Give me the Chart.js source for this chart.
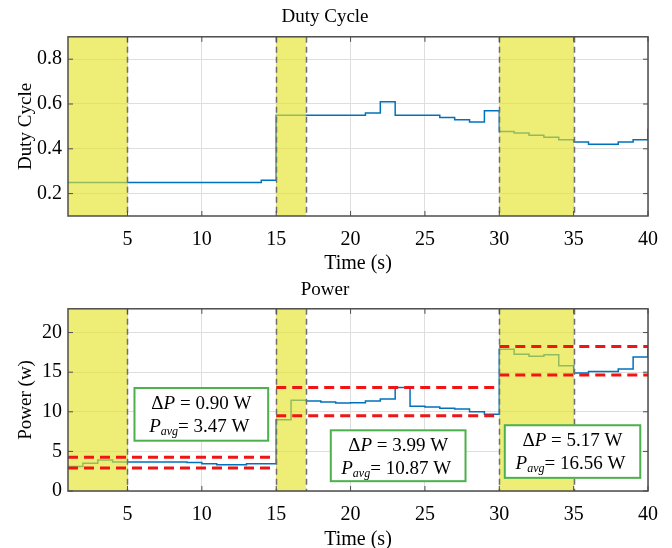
<!DOCTYPE html>
<html>
<head>
<meta charset="utf-8">
<script src="https://cdn.jsdelivr.net/npm/chart.js@4"></script>
<style>
  body { margin: 0; background: #fff; }
  canvas { position: absolute; left: 0; }
</style>
</head>
<body>
<canvas id="duty" width="672" height="275" style="top:0"></canvas>
<canvas id="power" width="672" height="273" style="top:275px"></canvas>
<script>
// duty cycle steps: value holds from each time until the next one
const dutyTime  = [1, 14, 15, 21, 22, 23, 26, 27, 28, 29, 30, 31, 32, 33, 34, 35, 36, 38, 39, 40];
const dutyValue = [0.25, 0.26, 0.55, 0.56, 0.61, 0.55, 0.54, 0.53, 0.52, 0.57, 0.477, 0.47, 0.461, 0.452, 0.44, 0.43, 0.42, 0.43, 0.44, 0.49];

// power steps
const powerTime  = [1, 2, 3, 4, 9, 10, 11, 13, 15, 16, 17, 18, 19, 20, 21, 22, 23, 24, 25, 26, 27, 28, 29, 30, 31, 32, 33, 34, 35, 36, 38, 39, 40];
const powerValue = [3.1, 3.5, 3.9, 3.66, 3.6, 3.45, 3.3, 3.45, 9.0, 11.45, 11.35, 11.25, 11.1, 11.15, 11.35, 11.6, 13.05, 10.7, 10.6, 10.45, 10.35, 10.0, 9.7, 17.9, 17.25, 17.0, 17.2, 15.8, 14.9, 15.1, 15.4, 16.9, 18.0];

// shaded (yellow) intervals
const shadeStart = [1, 15, 30];
const shadeEnd   = [5, 17, 35];

// red dashed limits per interval
const bandStart = [1, 15, 30];
const bandEnd   = [15, 30, 40];
const bandUpper = [4.25, 13.05, 18.25];
const bandLower = [2.9, 9.5, 14.65];

// annotation texts
const deltaP = ['0.90', '3.99', '5.17'];
const pAvg   = ['3.47', '10.87', '16.56'];

const timeTicks  = [5, 10, 15, 20, 25, 30, 35, 40];
const dutyTicks  = [0.2, 0.4, 0.6, 0.8];
const powerTicks = [0, 5, 10, 15, 20];

// annotation boxes placed in data units [left, right, top, bottom]
const boxes = [[5.47, 14.46, 13.0, 6.35], [18.67, 27.73, 7.66, 1.24], [30.37, 39.48, 8.3, 1.66]];

const FONT = '"Liberation Serif", "Times New Roman", serif';
const BLUE = '#0072BD';

function drawParts(ctx, cx, y, parts) {
  let w = 0;
  parts.forEach(p => {
    ctx.font = (p.it ? 'italic ' : '') + (p.size || 19) + 'px ' + FONT;
    p.w = ctx.measureText(p.t).width;
    w += p.w;
  });
  let x = cx - w / 2;
  parts.forEach(p => {
    ctx.font = (p.it ? 'italic ' : '') + (p.size || 19) + 'px ' + FONT;
    ctx.fillText(p.t, x, y + (p.dy || 0));
    x += p.w;
  });
}

const decor = {
  id: 'decor',
  afterDatasetDraw(chart, args) {
    if (args.index !== 0) return;
    const {ctx, chartArea: a, scales: {x}} = chart;
    ctx.save();
    ctx.fillStyle = 'rgba(228,228,40,0.64)';
    shadeStart.forEach((s, i) => {
      const x0 = x.getPixelForValue(s), x1 = x.getPixelForValue(shadeEnd[i]);
      ctx.fillRect(x0, a.top, x1 - x0, a.bottom - a.top);
    });
    ctx.restore();
  },
  afterDraw(chart, args, opts) {
    const {ctx, chartArea: a, scales: {x, y}} = chart;
    ctx.save();
    // dashed boundaries of the shaded intervals
    ctx.strokeStyle = '#6e6e6e';
    ctx.lineWidth = 1.5;
    ctx.setLineDash([6, 4]);
    shadeStart.concat(shadeEnd).forEach(v => {
      const px = Math.round(x.getPixelForValue(v)) + 0.5;
      if (px <= a.left + 1 || px >= a.right - 1) return;
      ctx.beginPath();
      ctx.moveTo(px, a.top);
      ctx.lineTo(px, a.bottom);
      ctx.stroke();
    });
    ctx.setLineDash([]);
    // box and inward ticks
    ctx.strokeStyle = '#4d4d4d';
    ctx.lineWidth = 1.5;
    ctx.strokeRect(a.left, a.top, a.right - a.left, a.bottom - a.top);
    ctx.lineWidth = 1;
    ctx.beginPath();
    x.ticks.forEach(t => {
      const px = x.getPixelForValue(t.value);
      ctx.moveTo(px, a.top); ctx.lineTo(px, a.top + 5);
      ctx.moveTo(px, a.bottom); ctx.lineTo(px, a.bottom - 5);
    });
    y.ticks.forEach(t => {
      const py = y.getPixelForValue(t.value);
      ctx.moveTo(a.left, py); ctx.lineTo(a.left + 5, py);
      ctx.moveTo(a.right, py); ctx.lineTo(a.right - 5, py);
    });
    ctx.stroke();
    // annotation boxes
    if (opts.boxes) {
      boxes.forEach((b, i) => {
        const l = x.getPixelForValue(b[0]), r = x.getPixelForValue(b[1]);
        const t = y.getPixelForValue(b[2]), btm = y.getPixelForValue(b[3]);
        ctx.fillStyle = '#fff';
        ctx.fillRect(l, t, r - l, btm - t);
        ctx.strokeStyle = '#4cb04c';
        ctx.lineWidth = 2;
        ctx.strokeRect(l, t, r - l, btm - t);
        ctx.fillStyle = '#000';
        ctx.textBaseline = 'alphabetic';
        const cx = (l + r) / 2;
        drawParts(ctx, cx, t + 21, [{t: 'Δ'}, {t: 'P', it: true}, {t: ' = ' + deltaP[i] + ' W'}]);
        drawParts(ctx, cx - 2, t + 44, [{t: 'P', it: true}, {t: 'avg', it: true, size: 12, dy: 3}, {t: '= ' + pAvg[i] + ' W'}]);
      });
    }
    ctx.restore();
  }
};

function makeOptions(title, titlePad, xHeight, xTitlePad, yLabel, yMin, yMax, yTicks, withBoxes) {
  return {
    responsive: false,
    animation: false,
    layout: { padding: { left: 0, right: 22, top: 0, bottom: 0 } },
    plugins: {
      legend: { display: false },
      tooltip: { enabled: false },
      title: {
        display: true, text: title, color: '#000',
        font: { family: FONT, size: 19, weight: 'normal' },
        padding: titlePad
      },
      decor: { boxes: withBoxes }
    },
    scales: {
      x: {
        type: 'linear', min: 1, max: 40,
        afterBuildTicks: s => { s.ticks = timeTicks.map(v => ({ value: v })); },
        afterFit: s => { s.height = xHeight; },
        grid: { color: '#dedede', drawTicks: false },
        border: { display: false },
        ticks: { color: '#000', padding: 14, font: { family: FONT, size: 20, lineHeight: 1 } },
        title: {
          display: true, text: 'Time (s)', color: '#000',
          font: { family: FONT, size: 20 }, padding: { top: 0, bottom: xTitlePad }
        }
      },
      y: {
        min: yMin, max: yMax,
        afterBuildTicks: s => { s.ticks = yTicks.map(v => ({ value: v })); },
        afterFit: s => { s.width = 68; },
        grid: { color: '#dedede', drawTicks: false },
        border: { display: false },
        ticks: { color: '#000', padding: 6, font: { family: FONT, size: 20 }, callback: v => String(v) },
        title: {
          display: true, text: yLabel, color: '#000',
          font: { family: FONT, size: 19 }, padding: { top: 15, bottom: 0 }
        }
      }
    }
  };
}

function stepPoints(ts, vs) {
  return ts.map((t, i) => ({ x: t, y: vs[i] }));
}

new Chart(document.getElementById('duty'), {
  type: 'line',
  data: {
    datasets: [{
      data: stepPoints(dutyTime, dutyValue),
      borderColor: BLUE, borderWidth: 1.5, pointRadius: 0, stepped: 'before', order: 1
    }]
  },
  options: makeOptions('Duty Cycle', { top: 6, bottom: 8 }, 59, -1, 'Duty Cycle', 0.1, 0.9, dutyTicks, false),
  plugins: [decor]
});

const bandSets = [];
bandStart.forEach((s, i) => {
  [bandUpper[i], bandLower[i]].forEach(v => {
    bandSets.push({
      data: [{ x: s, y: v }, { x: bandEnd[i], y: v }],
      borderColor: '#f01414', borderWidth: 3, borderDash: [10, 6],
      pointRadius: 0, order: 0
    });
  });
});

new Chart(document.getElementById('power'), {
  type: 'line',
  data: {
    datasets: [{
      data: stepPoints(powerTime, powerValue),
      borderColor: BLUE, borderWidth: 1.5, pointRadius: 0, stepped: 'before', order: 1
    }].concat(bandSets)
  },
  options: makeOptions('Power', { top: 4, bottom: 7 }, 57, -4, 'Power (w)', 0, 23, powerTicks, true),
  plugins: [decor]
});
</script>
</body>
</html>
